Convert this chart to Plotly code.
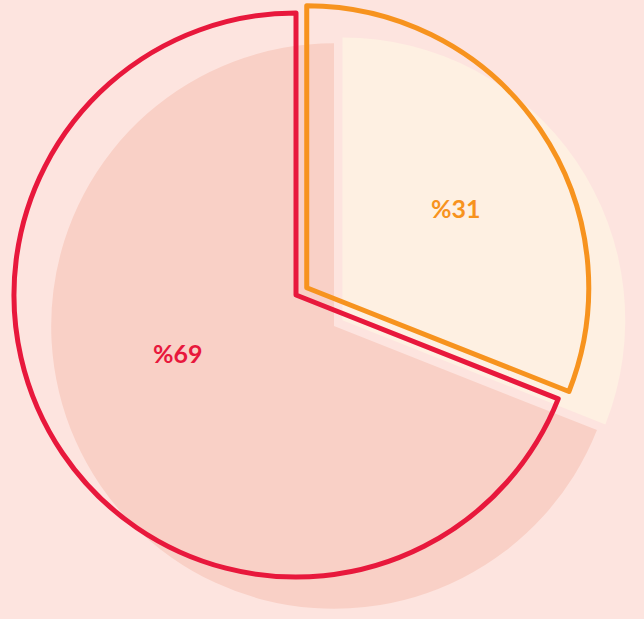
import plotly.graph_objects as go

labels = ["%31", "%69"]
values = [31, 69]
outline_pulls = [0.046, 0.0]
shadow_pulls = [0.036, 0.0]

W, H = 644, 619
BG = "#fde4df"
LINE_COLORS = ["#f7931e", "#e8183c"]
SHADOW_COLORS = ["#fef0e2", "#f9d0c6"]

def dom(cx, cy, half):
    # cx, cy in px from top-left
    x0, x1 = (cx - half) / W, (cx + half) / W
    y0, y1 = (H - cy - half) / H, (H - cy + half) / H
    return dict(x=[max(0, x0), min(1, x1)], y=[max(0, y0), min(1, y1)])

fig = go.Figure()
fig.add_trace(go.Pie(
    labels=labels, values=values, sort=False, direction="clockwise", rotation=0,
    pull=shadow_pulls, textinfo="none", hoverinfo="skip", showlegend=False,
    marker=dict(colors=SHADOW_COLORS, line=dict(width=0)),
    domain=dom(334, 326, 293),
))
fig.add_trace(go.Pie(
    labels=labels, values=values, sort=False, direction="clockwise", rotation=0,
    pull=outline_pulls, textinfo="none", hoverinfo="label+percent", showlegend=False,
    marker=dict(colors=["rgba(0,0,0,0)", "rgba(0,0,0,0)"],
                line=dict(width=5, color=LINE_COLORS)),
    domain=dom(296, 295, 295),
))

label_pos = [(456, 208), (178, 353)]
for lab, (px, py), col in zip(labels, label_pos, LINE_COLORS):
    fig.add_annotation(x=px / W, y=1 - py / H, xref="paper", yref="paper",
                       xanchor="center", yanchor="middle",
                       text=f"<b>{lab}</b>", showarrow=False,
                       font=dict(family="Lato", size=25, color=col))

fig.update_layout(width=W, height=H, margin=dict(l=0, r=0, t=0, b=0),
                  paper_bgcolor=BG, plot_bgcolor=BG)
fig.write_html(
    "out.html",
    config={"displayModeBar": False},
    post_script="document.body.style.margin='0';document.body.style.overflow='hidden';"
                "document.body.style.background='" + BG + "';",
)
